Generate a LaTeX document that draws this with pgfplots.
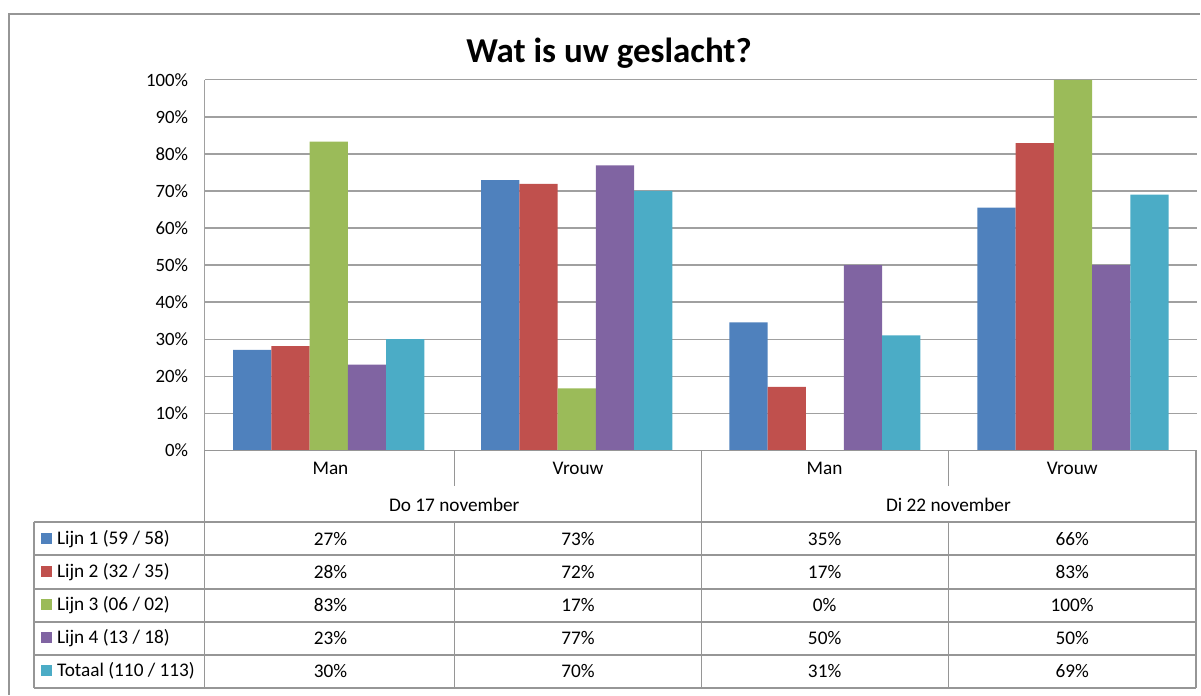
\documentclass[border=0pt]{standalone}
\usepackage{pgfplots}
\pgfplotsset{compat=1.18}
\usepackage{fontspec}
\setmainfont{Carlito}
\definecolor{c1}{HTML}{4F81BD}
\definecolor{c2}{HTML}{C0504D}
\definecolor{c3}{HTML}{9BBB59}
\definecolor{c4}{HTML}{8064A2}
\definecolor{c5}{HTML}{4BACC6}
\definecolor{gridc}{HTML}{A0A0A0}
\definecolor{tabc}{HTML}{969696}
\begin{document}
\begin{tikzpicture}[x=1pt,y=1pt]
\path (0,0) rectangle (1201,695);
% outer chart border
\draw[color=tabc, line width=2pt] (9,-1) -- (9,681) -- (1202,681);
\begin{axis}[
  at={(205pt,244pt)}, anchor=south west,
  scale only axis, width=994pt, height=371pt,
  xmin=-0.5, xmax=3.5, ymin=0, ymax=100,
  xtick=\empty,
  ytick={0,10,...,100},
  yticklabel={\pgfmathparse{int(\tick)}\pgfmathresult\%},
  yticklabel style={font=\fontsize{18.8}{22}\selectfont, anchor=east, xshift=-13pt},
  major tick length=0pt,
  ymajorgrids, grid style={gridc, line width=1.2pt},
  axis x line*=bottom, axis y line*=left,
  axis line style={gridc, line width=1.2pt, -},
  ybar=0pt, bar width=38.3pt,
  clip=false,
]
\addplot[fill=c1, draw=none] coordinates {(0,27.1) (1,72.9) (2,34.5) (3,65.5)};
\addplot[fill=c2, draw=none] coordinates {(0,28.1) (1,71.9) (2,17.1) (3,82.9)};
\addplot[fill=c3, draw=none] coordinates {(0,83.3) (1,16.7) (2,0) (3,100)};
\addplot[fill=c4, draw=none] coordinates {(0,23.1) (1,76.9) (2,50) (3,50)};
\addplot[fill=c5, draw=none] coordinates {(0,30.0) (1,70.0) (2,31.0) (3,69.0)};
\end{axis}
% title
\node[font=\fontsize{35}{40}\selectfont\bfseries] at (610,642) {Wat is uw geslacht?};
% table lines
\begin{scope}[color=tabc, line width=1.3pt]
\draw (205,244) -- (205,6);
\draw (205,244) -- (1199,244);
\draw (455,244) -- (455,208);
\draw (950,244) -- (950,208);
\draw (703,244) -- (703,6);
\draw (1198,244) -- (1198,6);
\foreach \yy in {172,139,105,72,39,6} {\draw (34,\yy) -- (1198,\yy);}
\draw (34,172) -- (34,6);
\draw (455,172) -- (455,6);
\draw (950,172) -- (950,6);
\end{scope}
\begin{scope}[font=\fontsize{19.3}{22}\selectfont]
\node at (331,226) {Man};
\node at (579,226) {Vrouw};
\node at (826,226) {Man};
\node at (1074,226) {Vrouw};
\node at (455,189) {Do 17 november};
\node at (950,189) {Di 22 november};
% legend rows
\fill[c1] (41,150) rectangle (52,161);
\fill[c2] (41,117) rectangle (52,128);
\fill[c3] (41,84) rectangle (52,95);
\fill[c4] (41,51) rectangle (52,62);
\fill[c5] (41,18) rectangle (52,29);
\node[anchor=west, inner sep=0pt] at (57,155) {Lijn 1 (59 / 58)};
\node[anchor=west, inner sep=0pt] at (57,122) {Lijn 2 (32 / 35)};
\node[anchor=west, inner sep=0pt] at (57,89) {Lijn 3 (06 / 02)};
\node[anchor=west, inner sep=0pt] at (57,56) {Lijn 4 (13 / 18)};
\node[anchor=west, inner sep=0pt] at (57,23) {Totaal (110 / 113)};
% values
\node at (331,155) {27\%}; \node at (579,155) {73\%}; \node at (826,155) {35\%}; \node at (1074,155) {66\%};
\node at (331,122) {28\%}; \node at (579,122) {72\%}; \node at (826,122) {17\%}; \node at (1074,122) {83\%};
\node at (331,89) {83\%}; \node at (579,89) {17\%}; \node at (826,89) {0\%}; \node at (1074,89) {100\%};
\node at (331,56) {23\%}; \node at (579,56) {77\%}; \node at (826,56) {50\%}; \node at (1074,56) {50\%};
\node at (331,23) {30\%}; \node at (579,23) {70\%}; \node at (826,23) {31\%}; \node at (1074,23) {69\%};
\end{scope}
\end{tikzpicture}
\end{document}
